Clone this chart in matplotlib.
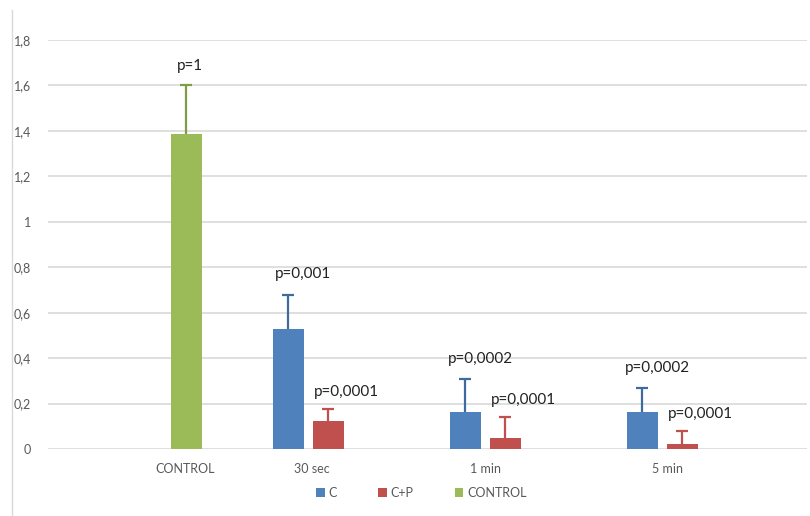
import matplotlib.pyplot as plt
import numpy as np
from matplotlib.lines import Line2D

plt.rcParams['font.family'] = ['Lato', 'DejaVu Sans']

# data
categories = ["CONTROL", "30 sec", "1 min", "5 min"]
c_vals = [np.nan, 0.528, 0.163, 0.163]
c_err = [np.nan, 0.150, 0.145, 0.105]
cp_vals = [np.nan, 0.125, 0.050, 0.022]
cp_err = [np.nan, 0.051, 0.092, 0.058]
control_vals = [1.385, np.nan, np.nan, np.nan]
control_err = [0.215, np.nan, np.nan, np.nan]
p_c = ["", "p=0,001", "p=0,0002", "p=0,0002"]
p_cp = ["", "p=0,0001", "p=0,0001", "p=0,0001"]
p_control = ["p=1", "", "", ""]

blue = "#4F81BD"
red = "#C0504D"
green = "#9BBB59"
grey = "#595959"

# group centres (irregular in the original picture)
x = np.array([186, 308, 485, 662])
off = 20
w = 31

fig = plt.figure(figsize=(8.1, 5.16), dpi=100)
ax = fig.add_axes([48 / 810, 1 - 449 / 516, (807 - 48) / 810, (449 - 40) / 516])

ax.bar(x - off, c_vals, w, color=blue, label="C", zorder=3)
ax.bar(x + off, cp_vals, w, color=red, label="C+P", zorder=3)
ax.bar(x, control_vals, w, color=green, label="CONTROL", zorder=3)

ekw = dict(lw=1.6, capsize=4, capthick=1.6, zorder=4, fmt="none")
for xs, vals, errs, col in [(x - off, c_vals, c_err, "#3E6A9F"),
                            (x + off, cp_vals, cp_err, red),
                            (x, control_vals, control_err, "#7F9C46")]:
    eb = ax.errorbar(xs, vals, yerr=[np.zeros(4), errs], ecolor=col, **ekw)
    eb[1][0].set_visible(False)  # only the upper cap

# p-value labels
for i in range(4):
    if p_control[i]:
        ax.text(x[i] + 4, control_vals[i] + control_err[i] + 0.085, p_control[i],
                ha="center", va="center", fontsize=11, color="#222222")
    if p_c[i]:
        ax.text(x[i] - off + 15, c_vals[i] + c_err[i] + 0.09, p_c[i],
                ha="center", va="center", fontsize=11, color="#222222")
    if p_cp[i]:
        ax.text(x[i] + off + 18, cp_vals[i] + cp_err[i] + 0.075, p_cp[i],
                ha="center", va="center", fontsize=11, color="#222222")

ax.set_xlim(48, 807)
ax.set_ylim(0, 1.8)
ax.set_yticks(np.arange(0, 1.81, 0.2))
ax.set_yticklabels(["0"] + ["{:g}".format(v).replace(".", ",") for v in np.arange(0.2, 1.81, 0.2)])
ax.set_xticks([185, 312, 485, 668])
ax.set_xticklabels(categories)
ax.tick_params(axis="both", length=0, colors=grey, labelsize=9)
ax.tick_params(axis="x", pad=10)
ax.tick_params(axis="y", pad=12)
ax.grid(axis="y", color="#D9D9D9", lw=1.2, zorder=0)
for s in ax.spines.values():
    s.set_visible(False)

fig.legend(loc="center", bbox_to_anchor=(0.52, 1 - 493 / 516), ncol=3, frameon=False,
           fontsize=9, labelcolor=grey, handlelength=0.7, handleheight=0.7,
           handletextpad=0.3, columnspacing=3.3)

fig.add_artist(Line2D([12 / 810, 12 / 810], [0, 1 - 10 / 516], color="#D9D9D9", lw=1))

fig.savefig("out.png", dpi=100)
